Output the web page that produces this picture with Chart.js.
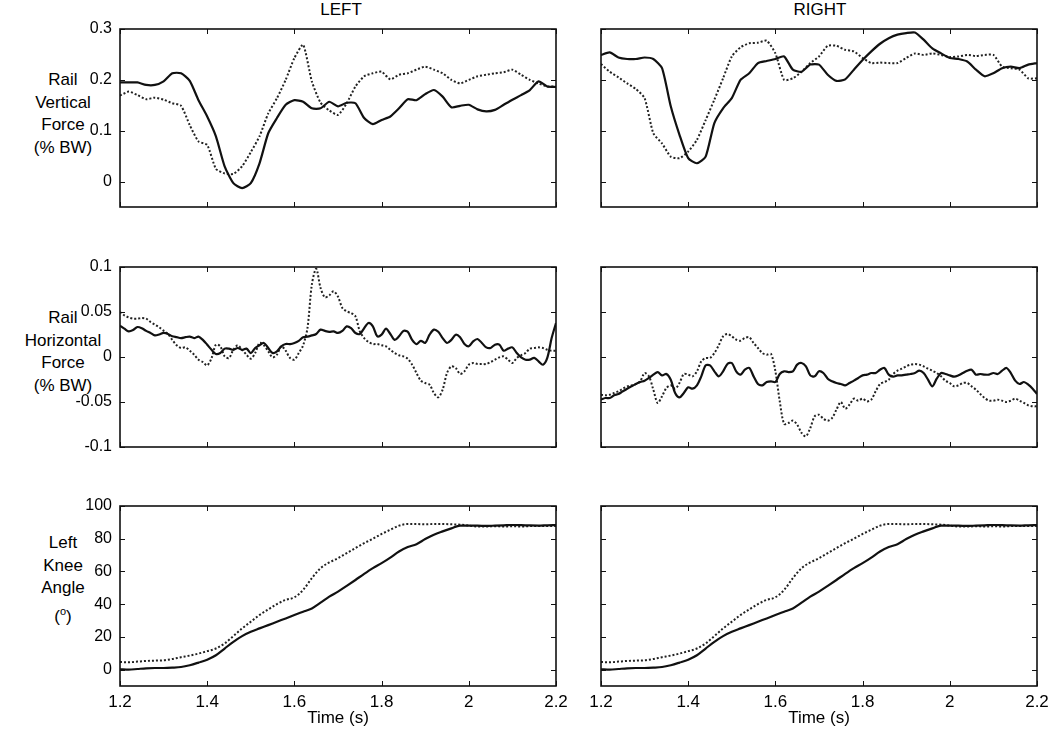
<!DOCTYPE html>
<html>
<head>
<meta charset="utf-8">
<script src="https://cdn.jsdelivr.net/npm/chart.js@4.4.1/dist/chart.umd.min.js"></script>
<style>
  html, body { margin: 0; padding: 0; background: #fff; overflow: hidden; }
  body { width: 1050px; height: 730px; position: relative; font-family: "Liberation Sans", Arial, sans-serif; color: #000; }
  canvas { position: absolute; }
  .lbl { position: absolute; text-align: center; font-size: 17px; line-height: 22.5px; }
  .ttl { position: absolute; text-align: center; font-size: 17px; line-height: 20px; }
  .lbl sup { font-size: 11px; }
</style>
</head>
<body>
<div class="ttl" style="left:291px; top:0; width:100px;">LEFT</div>
<div class="ttl" style="left:770px; top:0; width:100px;">RIGHT</div>
<div class="lbl" style="left:13px; top:69px; width:100px;">Rail<br>Vertical<br>Force<br>(% BW)</div>
<div class="lbl" style="left:13px; top:307px; width:100px;">Rail<br>Horizontal<br>Force<br>(% BW)</div>
<div class="lbl" style="left:13px; top:532px; width:100px;">Left<br>Knee<br>Angle<br>(<sup>o</sup>)</div>

<canvas id="vertLeft"></canvas>
<canvas id="vertRight"></canvas>
<canvas id="horizLeft"></canvas>
<canvas id="horizRight"></canvas>
<canvas id="kneeLeft"></canvas>
<canvas id="kneeRight"></canvas>

<script>
// time samples (s)
const timeCoarse = [1.20,1.22,1.24,1.26,1.28,1.30,1.32,1.34,1.36,1.38,1.40,1.42,1.44,1.46,1.48,1.50,1.52,1.54,1.56,1.58,1.60,1.62,1.64,1.66,1.68,1.70,1.72,1.74,1.76,1.78,1.80,1.82,1.84,1.86,1.88,1.90,1.92,1.94,1.96,1.98,2.00,2.02,2.04,2.06,2.08,2.10,2.12,2.14,2.16,2.18,2.20];
const timeFine = [1.20,1.21,1.22,1.23,1.24,1.25,1.26,1.27,1.28,1.29,1.30,1.31,1.32,1.33,1.34,1.35,1.36,1.37,1.38,1.39,1.40,1.41,1.42,1.43,1.44,1.45,1.46,1.47,1.48,1.49,1.50,1.51,1.52,1.53,1.54,1.55,1.56,1.57,1.58,1.59,1.60,1.61,1.62,1.63,1.64,1.65,1.66,1.67,1.68,1.69,1.70,1.71,1.72,1.73,1.74,1.75,1.76,1.77,1.78,1.79,1.80,1.81,1.82,1.83,1.84,1.85,1.86,1.87,1.88,1.89,1.90,1.91,1.92,1.93,1.94,1.95,1.96,1.97,1.98,1.99,2.00,2.01,2.02,2.03,2.04,2.05,2.06,2.07,2.08,2.09,2.10,2.11,2.12,2.13,2.14,2.15,2.16,2.17,2.18,2.19,2.20];

// tick labels
const xTicks = [1.2, 1.4, 1.6, 1.8, 2.0, 2.2];
const vertTicks = [0, 0.1, 0.2, 0.3];
const horizTicks = [-0.1, -0.05, 0, 0.05, 0.1];
const kneeTicks = [0, 20, 40, 60, 80, 100];

// Rail vertical force (% BW), sampled on timeCoarse
const vertLeftSolid = [0.195,0.195,0.195,0.19,0.19,0.197,0.213,0.213,0.198,0.16,0.128,0.089,0.03,-0.003,-0.013,-0.003,0.036,0.095,0.125,0.151,0.16,0.157,0.144,0.144,0.157,0.148,0.155,0.154,0.125,0.113,0.121,0.128,0.144,0.162,0.16,0.172,0.18,0.167,0.146,0.149,0.151,0.142,0.138,0.141,0.151,0.161,0.17,0.18,0.197,0.187,0.186];
const vertLeftDotted = [0.169,0.177,0.17,0.162,0.165,0.161,0.154,0.149,0.111,0.079,0.072,0.025,0.016,0.015,0.03,0.058,0.089,0.134,0.164,0.2,0.243,0.269,0.197,0.155,0.14,0.131,0.154,0.187,0.207,0.213,0.216,0.201,0.21,0.213,0.22,0.226,0.22,0.213,0.2,0.193,0.2,0.207,0.21,0.213,0.215,0.22,0.21,0.2,0.193,0.187,0.187];
const vertRightSolid = [0.249,0.254,0.244,0.241,0.241,0.244,0.241,0.223,0.148,0.092,0.046,0.036,0.049,0.115,0.144,0.164,0.2,0.213,0.233,0.237,0.241,0.246,0.22,0.216,0.23,0.23,0.21,0.198,0.201,0.22,0.239,0.256,0.271,0.282,0.289,0.292,0.293,0.279,0.262,0.252,0.243,0.241,0.236,0.22,0.207,0.213,0.223,0.226,0.223,0.23,0.233];
const vertRightDotted = [0.231,0.216,0.205,0.193,0.182,0.164,0.095,0.075,0.049,0.046,0.059,0.082,0.121,0.161,0.203,0.246,0.264,0.272,0.273,0.277,0.252,0.2,0.203,0.216,0.233,0.246,0.267,0.267,0.259,0.256,0.243,0.233,0.234,0.233,0.233,0.243,0.252,0.249,0.252,0.249,0.245,0.246,0.249,0.247,0.249,0.249,0.226,0.223,0.22,0.203,0.203];

// Rail horizontal force (% BW), sampled on timeFine
const horizLeftSolid = [0.0348,0.0315,0.0285,0.030,0.0333,0.032,0.029,0.0267,0.024,0.025,
  0.0267,0.0256,0.023,0.022,0.021,0.022,0.0226,0.021,0.0226,0.019,
  0.0137,0.008,0.0033,0.0044,0.0093,0.0093,0.008,0.010,0.008,0.0093,
  0.0044,0.010,0.013,0.0156,0.010,0.0044,0.0063,0.0119,0.0144,0.0144,
  0.0156,0.018,0.022,0.0226,0.024,0.0256,0.0304,0.029,0.028,0.0285,
  0.0267,0.029,0.034,0.032,0.0267,0.0256,0.032,0.0378,0.034,0.023,
  0.0248,0.0315,0.0256,0.019,0.023,0.029,0.028,0.019,0.0144,0.018,
  0.0156,0.0248,0.0304,0.028,0.021,0.0156,0.019,0.0248,0.022,0.0144,
  0.0119,0.0174,0.020,0.0156,0.0107,0.010,0.0137,0.0137,0.007,0.0093,
  0.0107,0.0044,-0.0004,-0.003,-0.003,-0.001,-0.0048,-0.0085,-0.001,0.021,
  0.0378];
const horizLeftDotted = [0.05,0.0463,0.044,0.0426,0.0426,0.0433,0.0426,0.0389,0.036,0.033,
  0.0293,0.0256,0.019,0.013,0.010,0.0107,0.007,0.0026,-0.003,-0.0056,
  -0.0093,-0.0011,0.0137,0.0119,0.0007,-0.0011,0.008,0.013,0.008,0.0026,
  -0.0019,0.0044,0.0156,0.013,0.0063,-0.0004,0.0026,0.0119,0.007,-0.0011,
  -0.003,0.0044,0.013,0.0322,0.0804,0.0981,0.0767,0.0663,0.0685,0.073,
  0.067,0.0544,0.0507,0.0489,0.0452,0.0285,0.0211,0.0167,0.0144,0.0144,
  0.013,0.0119,0.008,0.0044,0.0019,0.0007,-0.0019,-0.0085,-0.0178,-0.0263,
  -0.0289,-0.0307,-0.04,-0.0448,-0.0363,-0.0178,-0.0104,-0.0122,-0.0189,-0.0159,
  -0.0085,-0.0067,-0.0078,-0.0078,-0.0078,-0.0056,-0.003,-0.0004,0.0007,-0.003,
  -0.0067,-0.0011,0.0019,0.0044,0.0093,0.010,0.0107,0.010,0.008,0.007,
  0.007];
const horizRightSolid = [-0.0474,-0.0456,-0.0456,-0.0426,-0.0411,-0.0381,-0.0352,-0.0326,-0.030,-0.0278,
  -0.0263,-0.0233,-0.0196,-0.0167,-0.0204,-0.0189,-0.0252,-0.040,-0.0448,-0.040,
  -0.0337,-0.0352,-0.0315,-0.0215,-0.0093,-0.0093,-0.0159,-0.0215,-0.0159,-0.0078,
  -0.0067,-0.0159,-0.0196,-0.0141,-0.0122,-0.0215,-0.030,-0.0315,-0.0278,-0.027,
  -0.0278,-0.0189,-0.0159,-0.0167,-0.0159,-0.0085,-0.0067,-0.0104,-0.0204,-0.0215,
  -0.0159,-0.0178,-0.0241,-0.027,-0.0289,-0.030,-0.0315,-0.0289,-0.0263,-0.0233,
  -0.0204,-0.0196,-0.0178,-0.0178,-0.0141,-0.0122,-0.0196,-0.0219,-0.0204,-0.0204,
  -0.0196,-0.0189,-0.0178,-0.0152,-0.0178,-0.0252,-0.0326,-0.0241,-0.0178,-0.0189,
  -0.0204,-0.0219,-0.0204,-0.0178,-0.0152,-0.0141,-0.0196,-0.0189,-0.0196,-0.0196,
  -0.0178,-0.0189,-0.0152,-0.0122,-0.0178,-0.0263,-0.030,-0.0278,-0.0307,-0.0352,
  -0.0411];
const horizRightDotted = [-0.0419,-0.0426,-0.0419,-0.040,-0.0381,-0.0352,-0.0326,-0.0315,-0.030,-0.027,
  -0.0178,-0.0215,-0.0363,-0.0511,-0.0437,-0.0344,-0.0315,-0.0352,-0.0289,-0.0189,
  -0.0196,-0.0215,-0.0159,-0.0048,-0.0011,-0.0011,0.0044,0.013,0.023,0.0256,
  0.023,0.0193,0.0181,0.0211,0.0219,0.0156,0.010,0.0044,0.0026,0.0033,
  -0.0159,-0.0493,-0.0744,-0.0733,-0.0707,-0.0752,-0.0844,-0.0881,-0.0789,-0.066,
  -0.0641,-0.0685,-0.0707,-0.0678,-0.0585,-0.050,-0.0574,-0.053,-0.0463,-0.0485,
  -0.0463,-0.0493,-0.0474,-0.0381,-0.030,-0.0278,-0.0252,-0.0189,-0.0152,-0.013,
  -0.0104,-0.0085,-0.0078,-0.0085,-0.0104,-0.013,-0.0152,-0.0178,-0.0215,-0.0263,
  -0.0289,-0.0326,-0.0315,-0.0289,-0.0289,-0.0326,-0.0363,-0.0411,-0.0456,-0.0485,
  -0.0485,-0.0474,-0.0485,-0.050,-0.0485,-0.0463,-0.0485,-0.0511,-0.0537,-0.0548,
  -0.0548];

// Left knee angle (deg), sampled on timeCoarse
const kneeLeftSolid = [0.2,0,0.4,0.8,1.0,1.0,1.2,1.6,2.7,4.3,6.1,8.8,12.9,17.0,20.5,23.1,25.2,27.2,29.3,31.3,33.4,35.4,37.4,40.9,44.6,47.7,51.2,54.8,58.5,62.0,65.1,68.5,72.2,74.9,76.7,79.8,82.5,84.5,86.3,88.0,88.0,88.0,87.8,88.0,88.2,88.4,88.3,88.1,88.0,88.2,88.3];
const kneeLeftDotted = [4.7,4.5,4.9,5.3,5.5,5.7,6.5,7.6,8.6,9.8,11.3,12.9,16.0,20.5,25.2,29.3,33.4,36.8,40.1,42.6,44.2,48.7,55.9,62.0,65.5,68.1,71.2,74.3,77.3,80.0,82.9,85.5,88.0,89.0,89.0,88.8,89.0,89.0,88.8,88.6,88.0,87.5,87.5,87.6,87.5,87.6,87.5,87.7,87.8,87.8,87.8];
const kneeRightSolid = [0.2,0,0.4,0.8,1.0,1.0,1.2,1.6,2.7,4.3,6.1,8.8,12.9,17.0,20.5,23.1,25.2,27.2,29.3,31.3,33.4,35.4,37.4,40.9,44.6,47.7,51.2,54.8,58.5,62.0,65.1,68.5,72.2,74.9,76.7,79.8,82.5,84.5,86.3,88.0,88.0,88.0,87.8,88.0,88.2,88.4,88.3,88.1,88.0,88.2,88.3];
const kneeRightDotted = [4.7,4.5,4.9,5.3,5.5,5.7,6.5,7.6,8.6,9.8,11.3,12.9,16.0,20.5,25.2,29.3,33.4,36.8,40.1,42.6,44.2,48.7,55.9,62.0,65.5,68.1,71.2,74.3,77.3,80.0,82.9,85.5,88.0,89.0,89.0,88.8,89.0,89.0,88.8,88.6,88.0,87.5,87.5,87.6,87.5,87.6,87.5,87.7,87.8,87.8,87.8];

Chart.defaults.font.family = '"Liberation Sans", Arial, sans-serif';
Chart.defaults.font.size = 16;
Chart.defaults.color = "#000";

// MATLAB-style box with inward ticks on all four sides
const boxTicks = {
  id: "boxTicks",
  afterDraw(chart) {
    const { ctx, chartArea: a, scales } = chart;
    const x = scales.x, y = scales.y;
    const len = 5;
    ctx.save();
    ctx.strokeStyle = "#111";
    ctx.lineWidth = 1;
    ctx.beginPath();
    x.ticks.forEach(t => {
      const px = Math.round(x.getPixelForValue(t.value)) + 0.5;
      ctx.moveTo(px, a.bottom); ctx.lineTo(px, a.bottom - len);
      ctx.moveTo(px, a.top); ctx.lineTo(px, a.top + len);
    });
    y.ticks.forEach(t => {
      const py = Math.round(y.getPixelForValue(t.value)) + 0.5;
      ctx.moveTo(a.left, py); ctx.lineTo(a.left + len, py);
      ctx.moveTo(a.right, py); ctx.lineTo(a.right - len, py);
    });
    ctx.stroke();
    ctx.lineWidth = 1.6;
    ctx.strokeRect(a.left, a.top, a.right - a.left, a.bottom - a.top);
    ctx.restore();
  }
};

function fmt(v) {
  return String(Number(Number(v).toFixed(2)));
}

function pairs(times, values) {
  return times.map((t, i) => ({ x: t, y: values[i] }));
}

// keep tick-label overhang from shrinking the plot box
function noOverhang(s) {
  s.paddingTop = 0;
  s.paddingBottom = 0;
  s.paddingLeft = 0;
  s.paddingRight = 0;
}

function makePanel(id, opts) {
  const canvas = document.getElementById(id);
  const isLeft = opts.col === "left";
  const padL = isLeft ? 0 : 20;
  const padR = isLeft ? 20 : 12;
  const yW = isLeft ? 70 : 0;
  const xH = opts.bottom ? 44 : 0;
  const padT = 12;
  const padB = opts.bottom ? 0 : 12;
  const chartLeft = isLeft ? 120 : 601;
  const chartW = 436;

  canvas.width = padL + yW + chartW + padR;
  canvas.height = padT + opts.h + xH + padB;
  canvas.style.left = (chartLeft - padL - yW) + "px";
  canvas.style.top = (opts.top - padT) + "px";

  new Chart(canvas.getContext("2d"), {
    type: "line",
    data: {
      datasets: [
        {
          label: "solid",
          data: pairs(opts.times, opts.solid),
          borderColor: "#111",
          borderWidth: 2.2,
          pointRadius: 0,
          tension: opts.tension,
          cubicInterpolationMode: opts.mono ? "monotone" : "default"
        },
        {
          label: "dotted",
          data: pairs(opts.times, opts.dotted),
          borderColor: "#222",
          borderWidth: 2,
          borderDash: [2, 2],
          pointRadius: 0,
          tension: opts.tension,
          cubicInterpolationMode: opts.mono ? "monotone" : "default"
        }
      ]
    },
    options: {
      responsive: false,
      animation: false,
      devicePixelRatio: 1,
      layout: { padding: { left: padL, right: padR, top: padT, bottom: padB } },
      plugins: { legend: { display: false }, tooltip: { enabled: false } },
      scales: {
        x: {
          type: "linear",
          min: 1.2,
          max: 2.2,
          afterBuildTicks: s => { s.ticks = xTicks.map(v => ({ value: v })); },
          afterFit: s => { s.height = xH; noOverhang(s); },
          grid: { display: false, drawTicks: false },
          border: { display: false },
          ticks: { display: !!opts.bottom, padding: 6, maxRotation: 0, autoSkip: false, callback: fmt, font: { size: 17 } },
          title: {
            display: !!opts.bottom,
            text: "Time (s)",
            font: { size: 17 },
            padding: { top: 0, bottom: 1 }
          }
        },
        y: {
          type: "linear",
          min: opts.yMin,
          max: opts.yMax,
          afterBuildTicks: s => { s.ticks = opts.yTicks.map(v => ({ value: v })); },
          afterFit: s => { s.width = yW; noOverhang(s); },
          grid: { display: false, drawTicks: false },
          border: { display: false },
          ticks: { display: isLeft, padding: 8, autoSkip: false, callback: fmt }
        }
      }
    },
    plugins: [boxTicks]
  });
}

makePanel("vertLeft",   { col: "left",  top: 29,  h: 178, times: timeCoarse, solid: vertLeftSolid,   dotted: vertLeftDotted,   yMin: -0.05, yMax: 0.3, yTicks: vertTicks,  tension: 0.2 });
makePanel("vertRight",  { col: "right", top: 29,  h: 178, times: timeCoarse, solid: vertRightSolid,  dotted: vertRightDotted,  yMin: -0.05, yMax: 0.3, yTicks: vertTicks,  tension: 0.2 });
makePanel("horizLeft",  { col: "left",  top: 267, h: 180, times: timeFine,   solid: horizLeftSolid,  dotted: horizLeftDotted,  yMin: -0.1,  yMax: 0.1, yTicks: horizTicks, tension: 0.3 });
makePanel("horizRight", { col: "right", top: 267, h: 180, times: timeFine,   solid: horizRightSolid, dotted: horizRightDotted, yMin: -0.1,  yMax: 0.1, yTicks: horizTicks, tension: 0.3 });
makePanel("kneeLeft",   { col: "left",  top: 506, h: 180, times: timeCoarse, solid: kneeLeftSolid,   dotted: kneeLeftDotted,   yMin: -10,   yMax: 100, yTicks: kneeTicks,  tension: 0.4, mono: true, bottom: true });
makePanel("kneeRight",  { col: "right", top: 506, h: 180, times: timeCoarse, solid: kneeRightSolid,  dotted: kneeRightDotted,  yMin: -10,   yMax: 100, yTicks: kneeTicks,  tension: 0.4, mono: true, bottom: true });
</script>
</body>
</html>
